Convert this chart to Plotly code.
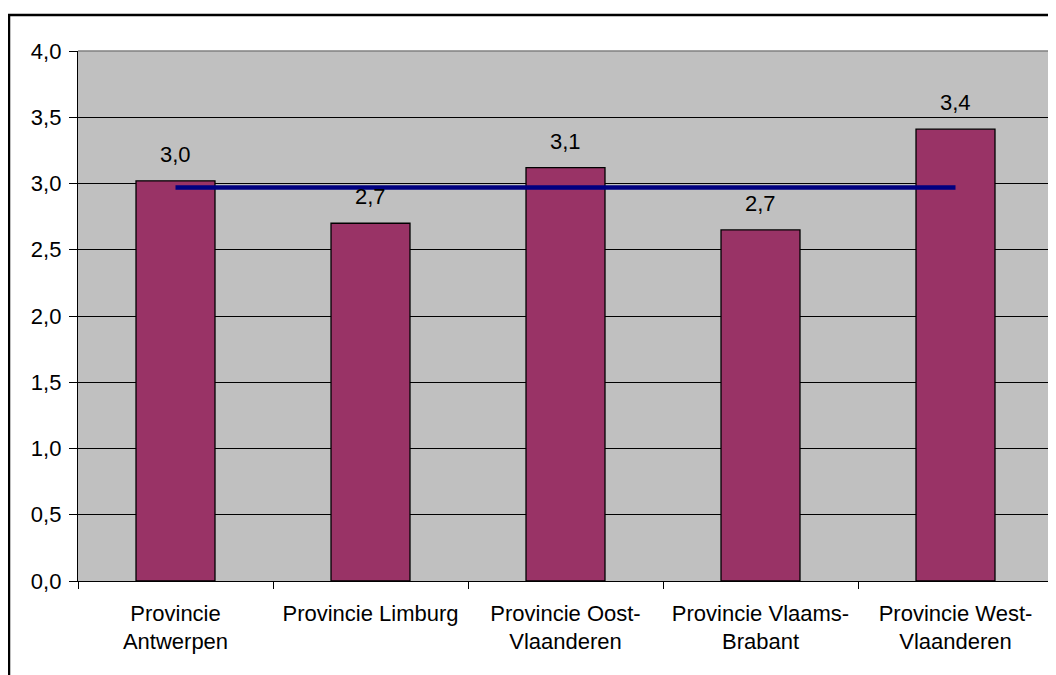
import plotly.graph_objects as go

categories = ["Provincie<br>Antwerpen", "Provincie Limburg", "Provincie Oost-<br>Vlaanderen",
              "Provincie Vlaams-<br>Brabant", "Provincie West-<br>Vlaanderen"]
values = [3.02, 2.70, 3.12, 2.65, 3.41]
average = [2.97, 2.97, 2.97, 2.97, 2.97]
y_ticks = [0.0, 0.5, 1.0, 1.5, 2.0, 2.5, 3.0, 3.5, 4.0]

FONT = "Liberation Sans, Arial, sans-serif"

# page body has an 8px margin; figure placed so plot area sits at x 78..1053, y 51..581
W, H = 1048, 667
ML, MR, MT, MB = 70, 3, 43, 94
PW, PH = W - ML - MR, H - MT - MB

fig = go.Figure()
fig.add_trace(go.Bar(
    x=categories, y=values, width=0.405,
    marker=dict(color="#993366", line=dict(color="black", width=1.3)),
    hoverinfo="skip", showlegend=False,
))
fig.add_trace(go.Scatter(
    x=categories, y=average, mode="lines",
    line=dict(color="#000080", width=4.5),
    hoverinfo="skip", showlegend=False,
))

for c, v in zip(categories, values):
    fig.add_annotation(x=c, y=v, xref="x", yref="y",
                       text=f"{v + 1e-9:.1f}".replace(".", ","),
                       showarrow=False, yanchor="bottom", yshift=12,
                       font=dict(family=FONT, size=22, color="black"))

# plot-area border (top and right in grey)
fig.add_shape(type="line", xref="paper", yref="paper", x0=0, x1=1, y0=1, y1=1,
              line=dict(color="#808080", width=1.5), layer="above")
fig.add_shape(type="line", xref="paper", yref="paper", x0=1, x1=1, y0=0, y1=1,
              line=dict(color="#808080", width=1.5), layer="above")
# outer chart frame
fig.add_shape(type="rect", xref="paper", yref="paper",
              x0=(1 - ML) / PW, x1=(W + 20 - ML) / PW,
              y0=-(MB + 20) / PH, y1=(PH + MT - 7) / PH,
              line=dict(color="black", width=2.5), fillcolor="rgba(0,0,0,0)", layer="above")

fig.update_layout(
    width=W, height=H,
    margin=dict(l=ML, r=MR, t=MT, b=MB),
    paper_bgcolor="white", plot_bgcolor="#C0C0C0",
    separators=",.",
    font=dict(family=FONT, size=21, color="black"),
)
fig.update_xaxes(
    type="category", range=[-0.5, 4.5],
    showline=True, linecolor="black", linewidth=1.3,
    ticks="outside", tickson="boundaries", ticklen=7, tickcolor="black", tickwidth=1.3,
    ticklabelstandoff=12,
    showgrid=False, tickfont=dict(family=FONT, size=22),
)
fig.update_yaxes(
    range=[0, 4], tickvals=y_ticks, tickformat=".1f",
    showline=True, linecolor="black", linewidth=1.3,
    ticks="outside", ticklen=8, tickcolor="black", tickwidth=1.3,
    ticklabelstandoff=3,
    showgrid=True, gridcolor="black", gridwidth=1,
    zeroline=False, tickfont=dict(family=FONT, size=22),
)

fig.write_html("out.html")
